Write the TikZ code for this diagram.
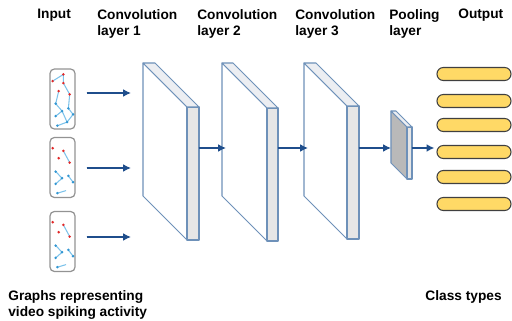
\documentclass[tikz,border=0pt]{standalone}
\usepackage{fontspec}
\setsansfont{Liberation Sans}
\usepackage{tikz}
\usetikzlibrary{arrows.meta,positioning}
\definecolor{carrow}{RGB}{31,78,140}
\definecolor{cedge}{RGB}{110,145,185}
\definecolor{cside}{RGB}{230,230,230}
\definecolor{ctop}{RGB}{236,238,242}
\definecolor{cpool}{RGB}{185,185,185}
\definecolor{cbar}{RGB}{255,217,102}
\definecolor{cred}{RGB}{225,40,40}
\definecolor{cblue}{RGB}{50,150,210}
\definecolor{clink}{RGB}{125,195,235}
\tikzset{
  lbl/.style={font=\sffamily\bfseries\fontsize{7.8}{9}\selectfont,inner sep=0pt,
    align=left},
  slab/.style={draw=cedge,line width=0.6pt,line join=round},
  gbox/.style={rectangle,rounded corners=2.5pt,draw=gray!85,line width=0.7pt,
    fill=white,minimum width=0.5cm,minimum height=1.2cm,inner sep=0pt},
  bar/.style={rectangle,rounded corners=3.6pt,draw=black!75,fill=cbar,
    line width=0.6pt,minimum width=1.48cm,minimum height=0.26cm,inner sep=0pt},
  arr/.style={-{Latex[length=4.5pt,width=4.5pt]},draw=carrow,fill=carrow,
    line width=0.9pt},
  link/.style={clink,line width=0.6pt},
  rdot/.style={fill=cred},
  bdot/.style={fill=cblue}
}
% slab: name, x, y (top left), height, depth, thickness, front colour
\newcommand{\convlayer}[7]{%
  \filldraw[slab,fill=#7] (#2,#3) -- ++(0,#4) -- ++(#5,#5) -- ++(0,-#4) -- cycle;
  \filldraw[slab,fill=cside] (#2+#5,#3+#5) rectangle ++(#6,#4);
  \filldraw[slab,fill=ctop] (#2,#3) -- ++(#6,0) -- ++(#5,#5) -- ++(-#6,0) -- cycle;
  \coordinate (#1-in) at (#2+4,148);
  \coordinate (#1-out) at (#2+#5+#6,148);
}

\begin{document}
\begin{tikzpicture}[x=0.02cm,y=-0.02cm]
\useasboundingbox (0,0) rectangle (512,321);
% ---------- labels ----------
\node[lbl,anchor=north west] (t-input) at (37,9) {Input};
\node[lbl,anchor=north west] (t-conv1) at (97,9) {Convolution\\layer 1};
\node[lbl,anchor=north west] (t-conv2) at (197,9) {Convolution\\layer 2};
\node[lbl,anchor=north west] (t-conv3) at (295,9) {Convolution\\layer 3};
\node[lbl,anchor=north west] (t-pool) at (389,9) {Pooling\\layer};
\node[lbl,anchor=north west] (t-out) at (458,9) {Output};
\node[lbl,anchor=north west] (t-graphs) at (8,290) {Graphs representing\\video spiking activity};
\node[lbl,anchor=north east] (t-class) at (502,290) {Class types};
% ---------- input graphs ----------
\node[gbox] (in1) at (62.5,99) {};
\node[gbox] (in2) at (62.5,167.5) {};
\node[gbox] (in3) at (62.5,241.5) {};
\begin{scope}[shift={(in1.north west)}]
\draw[link] (3.3,12.7) -- (14,6) -- (14,14.7) -- (20.3,26) -- (19,40) -- (23.7,46)
  -- (17.7,53.7) -- (8,57.3);
\draw[link] (9.3,22.7) -- (6.3,35.3) -- (12.7,42.7) -- (6.3,47.7);
\draw[link] (12.7,42.7) -- (17.7,53.7);
\foreach \p in {(3.3,12.7),(14,6),(14,14.7),(9.3,22.7),(20.3,26)} {\fill[rdot] \p circle (1.4);}
\foreach \p in {(6.3,35.3),(19,40),(12.7,42.7),(6.3,47.7),(23.7,46),(17.7,53.7),(8,57.3)}
  {\fill[bdot] \p circle (1.4);}
\end{scope}
\foreach \b in {in2,in3} {
\begin{scope}[shift={(\b.north west)}]
\draw[link] (14,14) -- (20.3,25.7);
\draw[link] (6.3,34.7) -- (12.7,41.3) -- (6.3,47);
\draw[link] (19,39) -- (23.7,45.3);
\draw[link] (8,56.3) -- (16.7,53.7);
\foreach \p in {(3.3,11.3),(14,14),(9.3,21.3),(20.3,25.7)} {\fill[rdot] \p circle (1.4);}
\foreach \p in {(6.3,34.7),(12.7,41.3),(6.3,47),(19,39),(23.7,45.3),(8,56.3)}
  {\fill[bdot] \p circle (1.4);}
\end{scope}
}
% ---------- layers ----------
\convlayer{conv1}{143}{63}{133}{44}{12}{white}
\convlayer{conv2}{222}{63}{133}{45}{11}{white}
\convlayer{conv3}{304}{63}{133}{43}{12}{white}
\convlayer{pool}{391}{111}{52}{16}{5}{cpool}
% ---------- output ----------
\foreach \y [count=\i] in {74,101,125,152,177,204} {\node[bar] (out\i) at (474,\y) {};}
% ---------- arrows ----------
\coordinate (tip1) at (131,93);
\coordinate (tip2) at (131,168);
\coordinate (tip3) at (131,237);
\foreach \i in {1,2,3} {\draw[arr,shorten <=0.22cm] (in\i.east |- tip\i) -- (tip\i);}
\draw[arr] (conv1-out) -- (conv2-in);
\draw[arr] (conv2-out) -- (conv3-in);
\draw[arr,shorten >=0.08cm] (conv3-out) -- (pool-in);
\draw[arr,shorten >=0.04cm] (pool-out) -- (pool-out -| out4.west);
\end{tikzpicture}
\end{document}
